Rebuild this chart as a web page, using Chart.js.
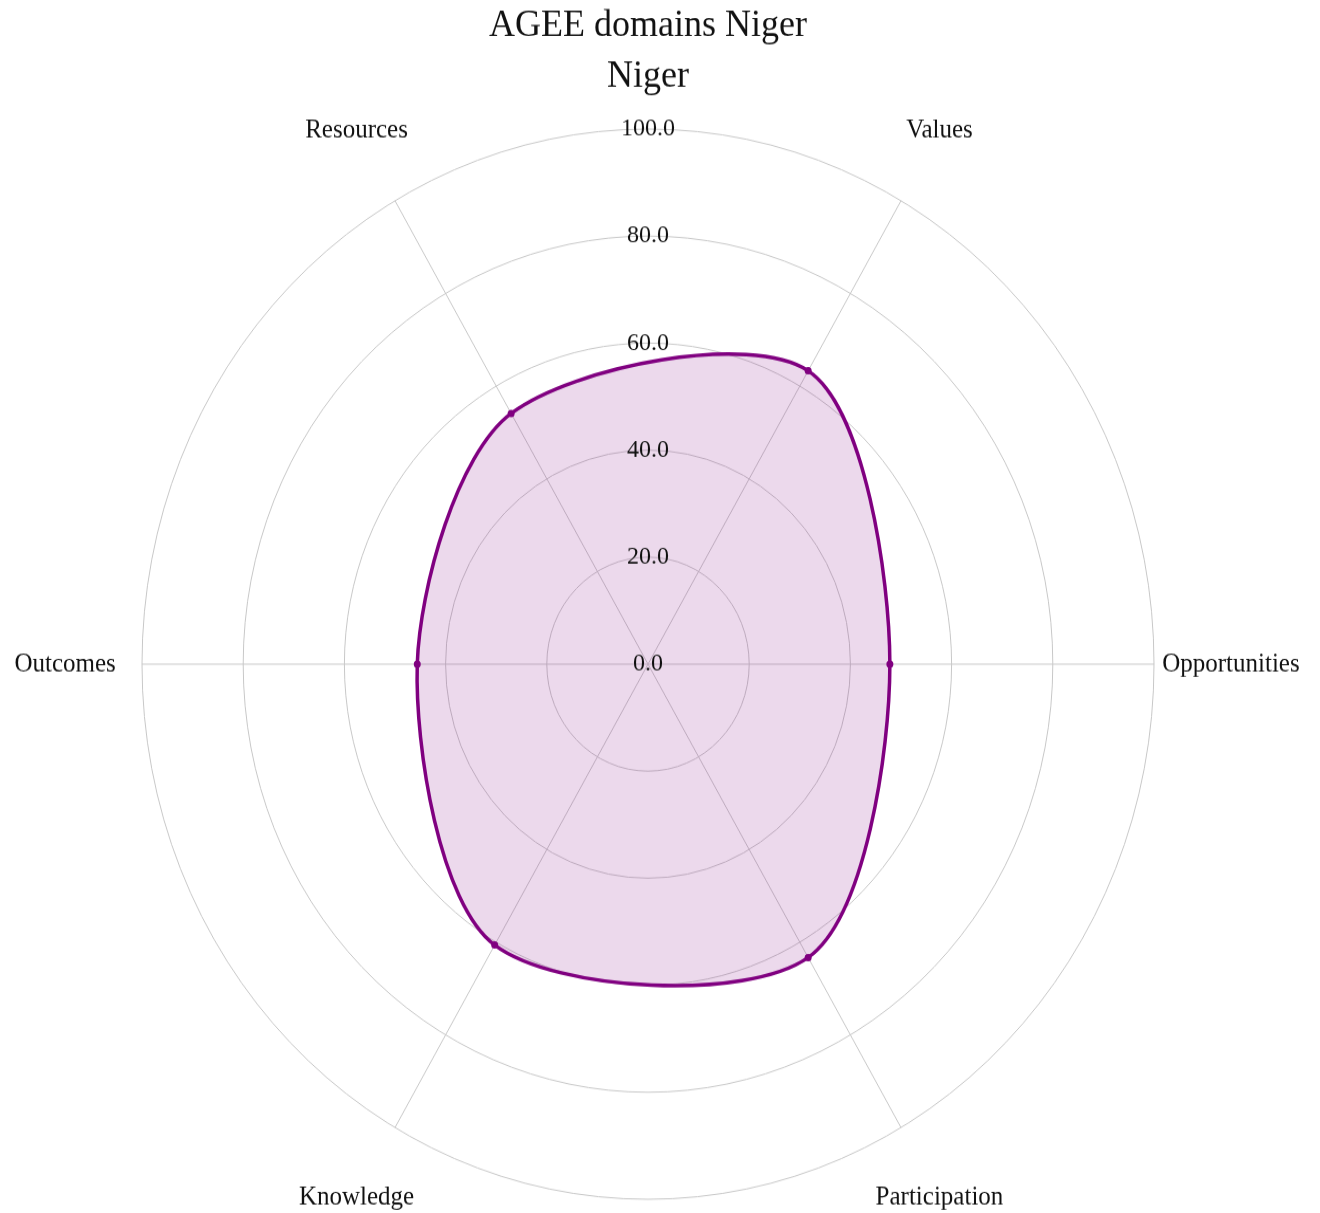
<!DOCTYPE html>
<html>
<head>
<meta charset="utf-8">
<script src="https://cdn.jsdelivr.net/npm/chart.js@4"></script>
<style>
  body { margin: 0; background: #fff; }
</style>
</head>
<body>
<canvas id="chart" width="1320" height="1147" style="width:1320px;height:1213px;display:block"></canvas>
<script>
const domains = ["Values", "Opportunities", "Participation", "Knowledge", "Outcomes", "Resources"];
const scores = [63.3, 47.8, 63.3, 60.6, 45.6, 54.1];
const tickValues = [0, 20, 40, 60, 80, 100];
const tickLabels = ["0.0", "20.0", "40.0", "60.0", "80.0", "100.0"];

const SERIF = "'Liberation Serif', 'Times New Roman', serif";
const purple = "rgb(128, 0, 128)";

// tick and axis labels drawn in the plotly style: centred on the axis line / ring
const labelPlugin = {
    id: "labels",
    afterDatasetsDraw(chart) {
        const scale = chart.scales.r;
        const ctx = chart.ctx;
        ctx.save();
        ctx.fillStyle = "#111";
        ctx.textAlign = "center";
        ctx.textBaseline = "middle";
        ctx.font = "24px " + SERIF;
        tickValues.forEach((v, i) => {
            const d = scale.getDistanceFromCenterForValue(v);
            ctx.fillText(tickLabels[i], scale.xCenter, scale.yCenter - d);
        });
        ctx.font = "25px " + SERIF;
        domains.forEach((name, i) => {
            const p = scale.getPointPosition(i, scale.drawingArea * 1.152);
            ctx.fillText(name, p.x, p.y);
        });
        ctx.restore();
    },
};

new Chart(document.getElementById("chart"), {
    type: "radar",
    data: {
        labels: domains,
        datasets: [
            {
                label: "Niger",
                data: scores,
                borderColor: purple,
                backgroundColor: "rgba(128, 0, 128, 0.15)",
                borderWidth: 3.5,
                fill: true,
                tension: 0.3,
                pointRadius: 3.5,
                pointBackgroundColor: purple,
                pointBorderWidth: 0,
            },
        ],
    },
    options: {
        responsive: false,
        devicePixelRatio: 1,
        animation: false,
        events: [],
        layout: { padding: { left: 0, right: 24, top: 0, bottom: 12 } },
        plugins: {
            legend: { display: false },
            tooltip: { enabled: false },
            title: {
                display: true,
                text: "AGEE domains Niger",
                color: "#111",
                font: { family: SERIF, size: 36, weight: "normal" },
                padding: { top: 3, bottom: 5 },
            },
            subtitle: {
                display: true,
                text: "Niger",
                color: "#111",
                font: { family: SERIF, size: 36, weight: "normal" },
                padding: { top: 0, bottom: 28 },
            },
        },
        scales: {
            r: {
                min: 0,
                max: 100,
                startAngle: 30,
                ticks: { display: false, stepSize: 20 },
                pointLabels: { display: false },
                grid: { color: "#c8c8c8", lineWidth: 1, circular: true },
                angleLines: { color: "#c8c8c8", lineWidth: 1 },
            },
        },
    },
    plugins: [labelPlugin],
});
</script>
</body>
</html>
